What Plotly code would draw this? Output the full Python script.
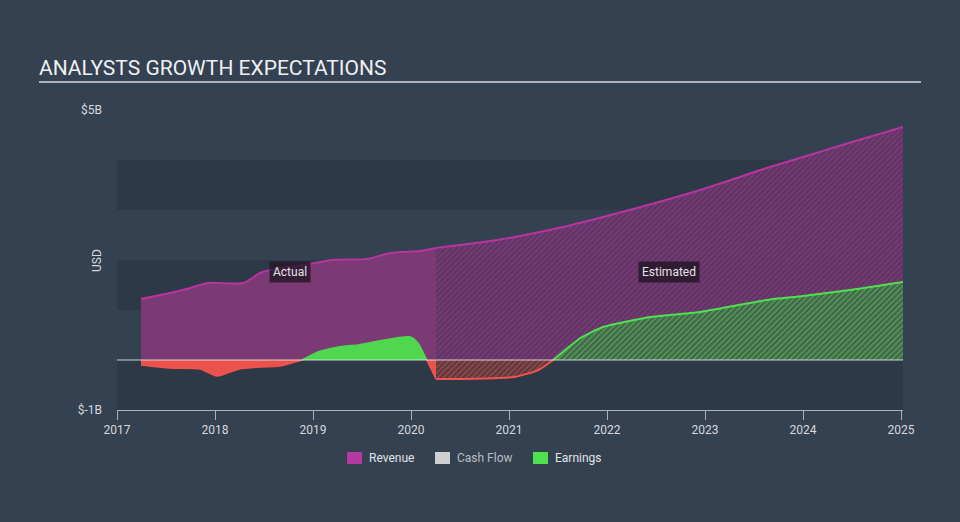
import numpy as np
import plotly.graph_objects as go

# ---------------- data (billions USD) ----------------
rev_act_x = [2017.245, 2017.54, 2017.71, 2017.93, 2018.29, 2018.46, 2018.66, 2018.9,
             2019.2, 2019.55, 2019.79, 2020.09, 2020.255]
rev_act_y = [1.22, 1.34, 1.42, 1.54, 1.54, 1.74, 1.84, 1.9,
             2.0, 2.02, 2.14, 2.18, 2.24]

rev_est_x = [2020.255, 2020.88, 2021.55, 2022.23, 2022.95, 2023.63, 2024.0, 2024.5, 2025.02]
rev_est_y = [2.24, 2.4, 2.66, 3.0, 3.4, 3.84, 4.06, 4.36, 4.66]

earn_act_x = [2017.245, 2017.54, 2017.85, 2018.02, 2018.25, 2018.46, 2018.66, 2018.89,
              2019.05, 2019.26, 2019.46, 2019.67, 2019.99, 2020.07, 2020.16, 2020.255]
earn_act_y = [-0.10, -0.16, -0.18, -0.32, -0.18, -0.14, -0.12, 0.0,
              0.16, 0.26, 0.30, 0.38, 0.46, 0.34, 0.0, -0.38]

earn_est_x = [2020.255, 2021.05, 2021.3, 2021.45, 2021.73, 2021.96, 2022.23, 2022.44,
              2022.95, 2023.63, 2024.0, 2024.48, 2025.02]
earn_est_y = [-0.38, -0.34, -0.20, 0.0, 0.44, 0.66, 0.78, 0.86,
              0.96, 1.20, 1.28, 1.40, 1.56]

x_ticks = [2017, 2018, 2019, 2020, 2021, 2022, 2023, 2024, 2025]
y_ticks = [-1, 5]
y_tick_text = ["$-1B", "$5B"]
legend_names = ["Revenue", "Cash Flow", "Earnings"]

# ---------------- styles ----------------
PAGE = "#334151"
BAND = "#2d3947"
REV_FILL = "#7b3a74"
REV_LINE = "#b8359f"
GREEN = "#4fd84f"
RED = "#ea524b"
TXT = "#d6d9dd"
FONT = "Roboto"

fig = go.Figure()

def pos(v):
    a = np.array(v, dtype=float)
    return np.where(a >= 0, a, np.nan)

def neg(v):
    a = np.array(v, dtype=float)
    return np.where(a <= 0, a, np.nan)

# Revenue actual
fig.add_trace(go.Scatter(x=rev_act_x, y=rev_act_y, mode="lines", fill="tozeroy",
                         fillcolor=REV_FILL, line=dict(color=REV_LINE, width=2, shape="spline", smoothing=0.6),
                         hoverinfo="skip", showlegend=False))
# Revenue estimated (hatched)
fig.add_trace(go.Scatter(x=rev_est_x, y=rev_est_y, mode="lines", fill="tozeroy",
                         fillcolor="rgba(0,0,0,0)",
                         fillpattern=dict(shape="/", fgcolor="#9a3f90", bgcolor="rgba(98,52,100,0.9)",
                                          size=4, solidity=0.4),
                         line=dict(color=REV_LINE, width=2, shape="spline", smoothing=0.6),
                         hoverinfo="skip", showlegend=False))

# Earnings actual
fig.add_trace(go.Scatter(x=earn_act_x, y=neg(earn_act_y), mode="lines", fill="tozeroy",
                         fillcolor=RED, line=dict(color="#f0534c", width=1.5, shape="spline", smoothing=0.6),
                         connectgaps=False, hoverinfo="skip", showlegend=False))
fig.add_trace(go.Scatter(x=earn_act_x, y=pos(earn_act_y), mode="lines", fill="tozeroy",
                         fillcolor=GREEN, line=dict(color=GREEN, width=1.5, shape="spline", smoothing=0.6),
                         connectgaps=False, hoverinfo="skip", showlegend=False))
# Earnings estimated (hatched)
fig.add_trace(go.Scatter(x=earn_est_x, y=neg(earn_est_y), mode="lines", fill="tozeroy",
                         fillcolor="rgba(0,0,0,0)",
                         fillpattern=dict(shape="/", fgcolor="#e0534c", bgcolor="rgba(88,58,64,0.95)",
                                          size=4, solidity=0.4),
                         line=dict(color="#f0534c", width=2, shape="spline", smoothing=0.6),
                         connectgaps=False, hoverinfo="skip", showlegend=False))
fig.add_trace(go.Scatter(x=earn_est_x, y=pos(earn_est_y), mode="lines", fill="tozeroy",
                         fillcolor="rgba(0,0,0,0)",
                         fillpattern=dict(shape="/", fgcolor="#5fd05f", bgcolor="rgba(66,100,74,0.97)",
                                          size=4, solidity=0.45),
                         line=dict(color="#4fe04f", width=2, shape="spline", smoothing=0.6),
                         connectgaps=False, hoverinfo="skip", showlegend=False))

# background bands
shapes = []
for y0, y1 in [(3, 4), (1, 2), (-1, 0)]:
    shapes.append(dict(type="rect", xref="paper", yref="y", x0=0, x1=1, y0=y0, y1=y1,
                       fillcolor=BAND, line=dict(width=0), layer="below"))
# zero line on top
shapes.append(dict(type="line", xref="paper", yref="y", x0=0, x1=1, y0=0, y1=0,
                   line=dict(color="rgba(235,235,235,0.85)", width=1.2), layer="above"))
# title underline (paper coords from pixel positions)
L, R, T, B = 117, 57, 110, 112
PW, PH = 960 - L - R, 522 - T - B
def px(xp):
    return (xp - L) / PW
def py(yp):
    return (522 - B - yp) / PH
shapes.append(dict(type="line", xref="paper", yref="paper", x0=px(39), x1=px(921), y0=py(82), y1=py(82),
                   line=dict(color="#aeb3b9", width=2)))

annotations = [
    dict(text="ANALYSTS GROWTH EXPECTATIONS", xref="paper", yref="paper", x=px(37), y=py(68),
         xanchor="left", yanchor="middle", showarrow=False, font=dict(family=FONT, size=21, color="#eef0f2")),
    dict(text="USD", xref="paper", yref="paper", x=px(97), y=py(261), textangle=-90,
         xanchor="center", yanchor="middle", showarrow=False, font=dict(family=FONT, size=12, color=TXT)),
    dict(text="Actual", xref="paper", yref="paper", x=px(290), y=py(272), xanchor="center", yanchor="middle",
         showarrow=False, bgcolor="rgba(35,22,38,0.78)", borderpad=3,
         font=dict(family=FONT, size=12, color="#e4e4e4")),
    dict(text="Estimated", xref="paper", yref="paper", x=px(669), y=py(272), xanchor="center", yanchor="middle",
         showarrow=False, bgcolor="rgba(35,22,38,0.82)", borderpad=3,
         font=dict(family=FONT, size=12, color="#e4e4e4")),
]

# legend (manual)
leg_items = [(347, "#b23aa0", "#e2e4e7"), (435, "#cfcfcf", "#b9bdc2"), (533, "#4fe04f", "#e2e4e7")]
for (x0, col, tcol), name in zip(leg_items, legend_names):
    shapes.append(dict(type="rect", xref="paper", yref="paper", x0=px(x0), x1=px(x0 + 15),
                       y0=py(452), y1=py(464), fillcolor=col, line=dict(width=0)))
    annotations.append(dict(text=name, xref="paper", yref="paper", x=px(x0 + 20), y=py(458),
                            xanchor="left", yanchor="middle", showarrow=False,
                            font=dict(family=FONT, size=12, color=tcol)))

fig.update_layout(
    width=960, height=522,
    margin=dict(l=L, r=R, t=T, b=B),
    paper_bgcolor=PAGE, plot_bgcolor=PAGE,
    showlegend=False,
    shapes=shapes, annotations=annotations,
    font=dict(family=FONT, size=12, color=TXT),
    xaxis=dict(range=[2017, 2025.02], tickvals=x_ticks, ticktext=[str(t) for t in x_ticks],
               showgrid=False, zeroline=False, showline=True, linecolor="#a9b1ba", linewidth=1,
               ticks="outside", ticklen=9, tickcolor="#a9b1ba", tickfont=dict(size=12, color=TXT)),
    yaxis=dict(range=[-1, 5], tickvals=y_ticks, ticktext=y_tick_text, showgrid=False, zeroline=False,
               showline=False, ticks="", ticklabelstandoff=14, tickfont=dict(size=12, color=TXT)),
)

fig.write_html("out.html")
